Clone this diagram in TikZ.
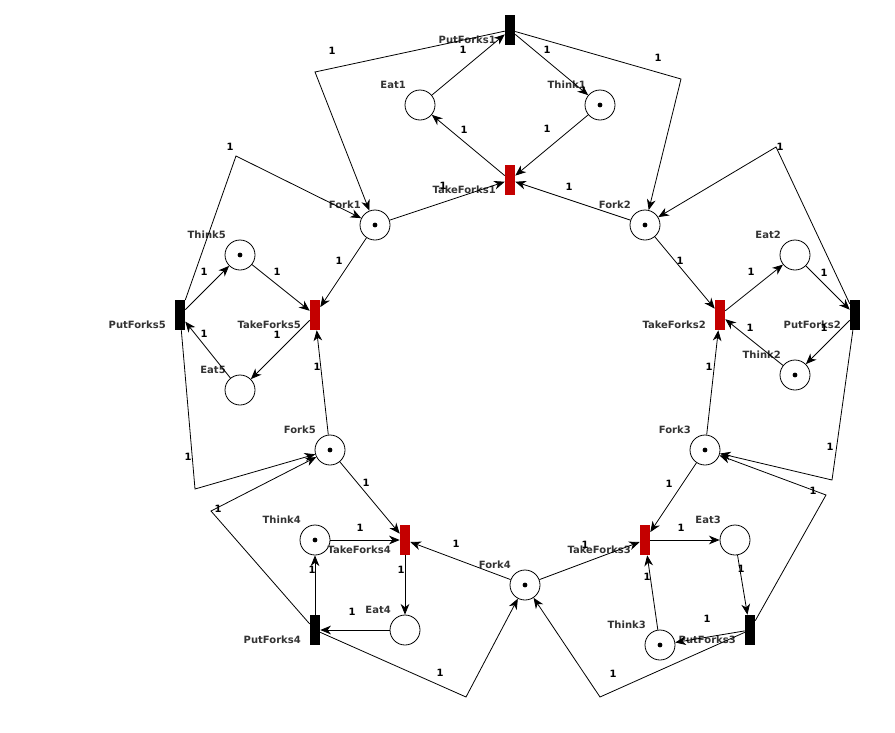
\documentclass[tikz,border=0pt]{standalone}
\usepackage{fontspec}
\usepackage{tikz}
\usetikzlibrary{arrows.meta}
\newfontfamily\netfamily{DejaVu Sans}
\definecolor{takered}{RGB}{196,0,0}
\definecolor{labelgray}{RGB}{51,51,51}
\tikzset{
  place/.style={circle, draw, line width=0.6pt, minimum size=22.5pt, inner sep=0pt},
  puttrans/.style={rectangle, fill=black, minimum width=7.5pt, minimum height=22.5pt, inner sep=0pt},
  taketrans/.style={puttrans, fill=takered},
  flow/.style={-{Stealth[length=8pt,width=6.5pt,inset=2.5pt]}, line width=0.6pt},
  netlabel/.style={font=\netfamily\bfseries\fontsize{7.5pt}{9pt}\selectfont, text=labelgray, inner sep=0pt, anchor=east},
  weight/.style={font=\netfamily\bfseries\fontsize{7.5pt}{9pt}\selectfont, inner sep=0pt},
}
\begin{document}
\begin{tikzpicture}[x=0.75pt, y=-0.75pt]
    \useasboundingbox (0,0) rectangle (895,732);
    % places
    \foreach \n/\t/\x/\y/\m in {eat1/Eat1/420/105/0, think1/Think1/600/105/1,
        fork1/Fork1/375/225/1, fork2/Fork2/645/225/1,
        think5/Think5/240/255/1, eat5/Eat5/240/390/0,
        eat2/Eat2/795/255/0, think2/Think2/795/375/1,
        fork5/Fork5/330/450/1, fork3/Fork3/705/450/1,
        think4/Think4/315/540/1, eat4/Eat4/405/630/0, fork4/Fork4/525/585/1,
        eat3/Eat3/735/540/0, think3/Think3/660/645/1} {
        \node[place] (\n) at (\x,\y) {};
        \node[netlabel] (\n-l) at (\x-14,\y-20) {\t};
        \ifnum\m=1 \fill (\n) circle (1.8pt);\fi
    }
    % transitions
    \foreach \n/\t/\x/\y/\s in {put1/PutForks1/510/30/puttrans, take1/TakeForks1/510/180/taketrans,
        put5/PutForks5/180/315/puttrans, take5/TakeForks5/315/315/taketrans,
        take2/TakeForks2/720/315/taketrans, put2/PutForks2/855/315/puttrans,
        take4/TakeForks4/405/540/taketrans, put4/PutForks4/315/630/puttrans,
        take3/TakeForks3/645/540/taketrans, put3/PutForks3/750/630/puttrans} {
        \node[\s] (\n) at (\x,\y) {};
        \node[netlabel] (\n-l) at (\x-14,\y+10) {\t};
    }
    % arcs
    \foreach \a/\b in {eat1/put1, put1/think1, think1/take1, take1/eat1, fork1/take1, fork2/take1,
        put5/think5, think5/take5, take5/eat5, eat5/put5, fork1/take5, fork5/take5,
        take2/eat2, eat2/put2, put2/think2, think2/take2, fork2/take2, fork3/take2,
        think4/take4, take4/eat4, eat4/put4, put4/think4, fork5/take4, fork4/take4,
        take3/eat3, eat3/put3, put3/think3, think3/take3, fork3/take3, fork4/take3}
        \draw[flow] (\a) -- (\b);
    % forks given back
    \foreach \a/\x/\y/\b in {put1/315/72/fork1, put1/681/79/fork2,
        put5/236/156/fork1, put5/195/489/fork5,
        put2/776/147/fork2, put2/832/480/fork3,
        put3/826/495/fork3, put3/600/697/fork4,
        put4/211/511/fork5, put4/466/697/fork4}
        \draw[flow] (\a) -- (\x,\y) -- (\b);
    % weights
    \foreach \x/\y [count=\i] in {463/50, 547/50, 547/129, 464/130, 443/186, 569/187, 332/51, 658/58,
        204/272, 277/272, 339/261, 204/334, 277/335, 317/367, 230/147, 188/457,
        680/261, 751/272, 824/273, 750/328, 824/328, 709/367, 780/147, 830/447,
        366/483, 360/528, 401/570, 352/612, 312/570, 456/544, 218/509, 440/673,
        669/484, 681/528, 741/569, 707/619, 647/577, 585/545, 813/491, 613/674}
        \node[weight] (w\i) at (\x,\y) {1};
\end{tikzpicture}
\end{document}
